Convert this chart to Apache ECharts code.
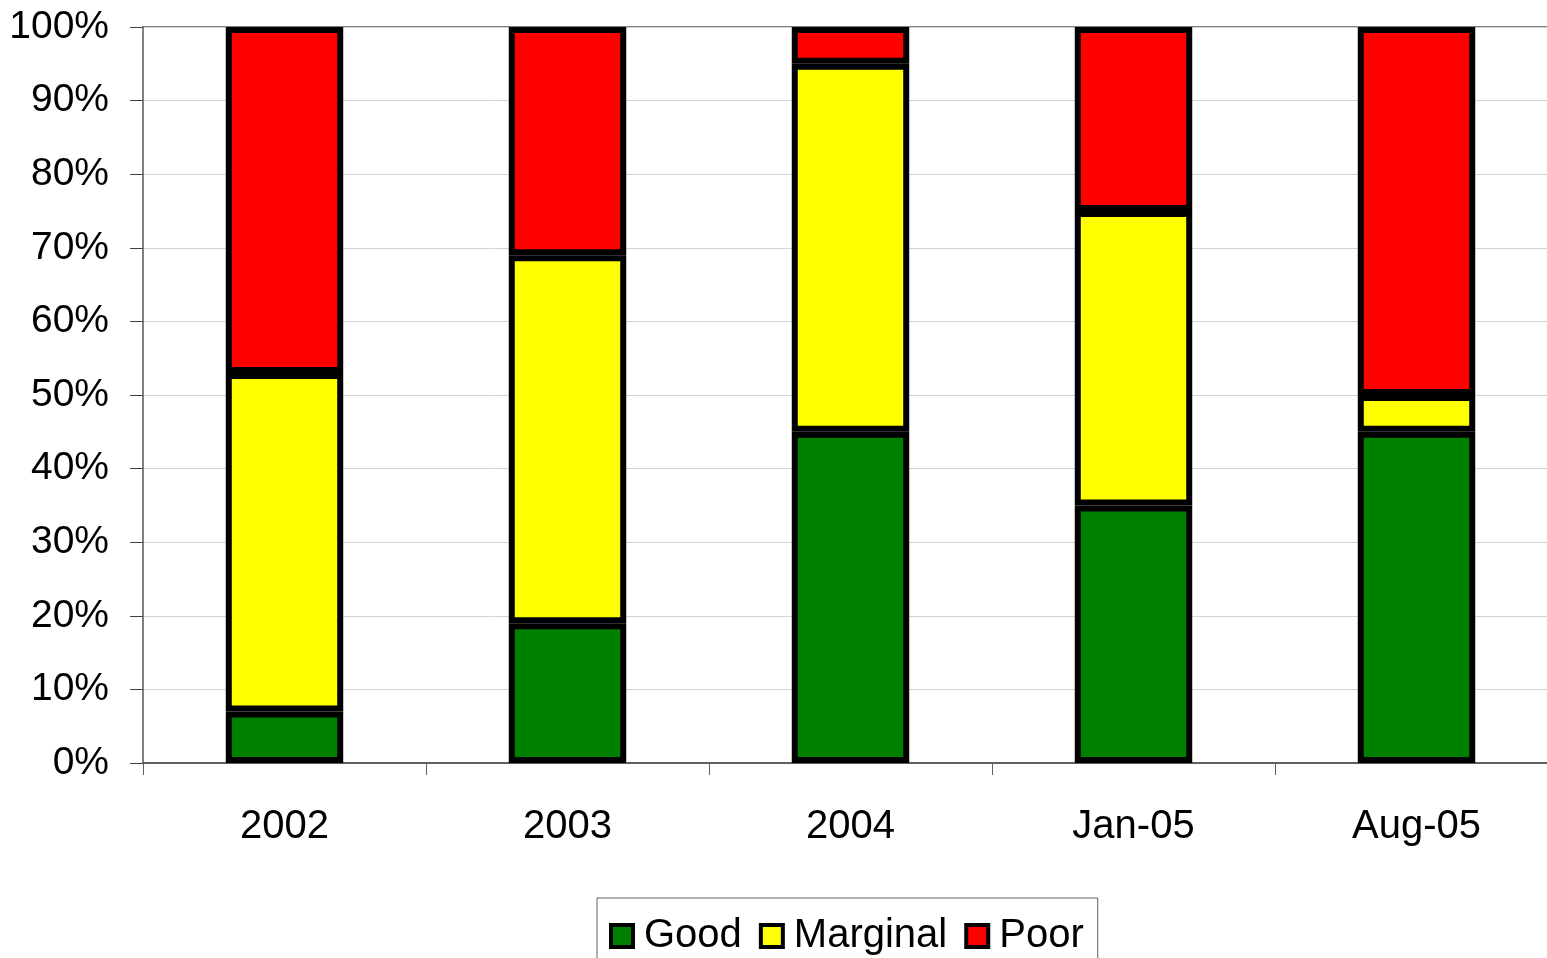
<!DOCTYPE html>
<html>
<head>
<meta charset="utf-8">
<title>Condition ratings</title>
<script src="https://cdn.jsdelivr.net/npm/echarts@6/dist/echarts.min.js"></script>
<style>
  html, body { margin: 0; padding: 0; background: #ffffff; }
  #chart { width: 1547px; height: 958px; }
</style>
</head>
<body>
<div id="chart"></div>
<script>
// Survey periods along the category axis
const periods = ['2002', '2003', '2004', 'Jan-05', 'Aug-05'];

// Share of items in each rating (percent of total)
const good     = [7, 19, 45, 35, 45];
const marginal = [46, 50, 50, 40, 5];
const poor     = [47, 31, 5, 25, 50];

const yTicks = { min: 0, max: 100, step: 10 };

const FONT = 'Liberation Sans, Arial, sans-serif';

function stackSeries(name, values, color) {
  return {
    name: name,
    type: 'bar',
    stack: 'total',
    data: values,
    barWidth: '41.5%',
    itemStyle: { color: color, borderColor: '#000000', borderWidth: 6 },
    emphasis: { disabled: true }
  };
}

const chart = echarts.init(document.getElementById('chart'), null, { renderer: 'canvas' });

chart.setOption({
  animation: false,
  backgroundColor: '#ffffff',
  grid: {
    // plot area runs slightly past the right edge of the canvas
    left: 143, width: 1415, top: 27, height: 736,
    outerBoundsMode: 'none',
    containLabel: false,
    show: true, borderColor: '#808080', borderWidth: 2, backgroundColor: 'transparent'
  },
  legend: {
    data: ['Good', 'Marginal', 'Poor'],
    top: 898,
    left: 597,
    itemWidth: 22,
    itemHeight: 22,
    itemGap: 17,
    padding: [18, 14, 40, 12],
    borderColor: '#606060',
    borderWidth: 1,
    backgroundColor: '#ffffff',
    icon: 'rect',
    itemStyle: { borderColor: '#000000', borderWidth: 4 },
    textStyle: { fontFamily: FONT, fontSize: 40, color: '#000000', padding: [0, 0, 0, 6] }
  },
  xAxis: {
    type: 'category',
    data: periods,
    boundaryGap: true,
    axisLine: { lineStyle: { color: '#606060', width: 2 } },
    axisTick: { show: true, alignWithLabel: false, length: 12, lineStyle: { color: '#606060', width: 1 } },
    axisLabel: { fontFamily: FONT, fontSize: 40, color: '#000000', margin: 44 },
    splitLine: { show: false }
  },
  yAxis: {
    type: 'value',
    min: yTicks.min,
    max: yTicks.max,
    interval: yTicks.step,
    axisLine: { show: true, lineStyle: { color: '#808080', width: 2 } },
    axisTick: { show: true, inside: false, length: 13, lineStyle: { color: '#404040', width: 1 } },
    axisLabel: {
      fontFamily: FONT, fontSize: 39, color: '#000000', margin: 34,
      formatter: '{value}%'
    },
    splitLine: { show: true, lineStyle: { color: '#d4d4d4', width: 1 } }
  },
  series: [
    stackSeries('Good', good, '#008000'),
    stackSeries('Marginal', marginal, '#ffff00'),
    stackSeries('Poor', poor, '#ff0000')
  ]
});
</script>
</body>
</html>
